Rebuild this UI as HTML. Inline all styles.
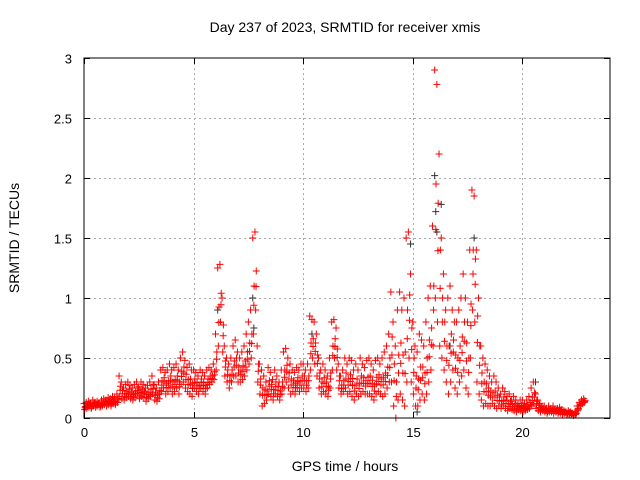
<!DOCTYPE html>
<html><head><meta charset="utf-8"><style>
body{margin:0;background:#fff}
svg{display:block;font-family:"Liberation Sans",sans-serif}
</style></head><body>
<svg id="chart" width="640" height="480" viewBox="0 0 640 480">
<rect width="640" height="480" fill="#fff"/>
<text x="345" y="32" text-anchor="middle" font-size="14">Day 237 of 2023, SRMTID for receiver xmis</text>
<text x="345" y="471" text-anchor="middle" font-size="14">GPS time / hours</text>
<text transform="translate(19,238) rotate(-90)" text-anchor="middle" font-size="14">SRMTID / TECUs</text>
<g id="grid"></g>
<g id="ticks"></g>
<g id="marks"></g>
<rect x="84" y="58" width="526" height="360" fill="none" stroke="#000" stroke-width="1"/>
</svg>
<script>
const xTicks=[0,5,10,15,20];
const yTicks=[0,0.5,1,1.5,2,2.5,3];
const yTickLabels=["0","0.5","1","1.5","2","2.5","3"];
const tStart=0, tStep=0.1;
const upper=[.12,.13,.14,.12,.15,.13,.14,.12,.15,.16,
.15,.17,.16,.18,.17,.2,.35,.3,.25,.28,
.3,.27,.25,.28,.3,.26,.3,.28,.25,.27,
.3,.35,.28,.25,.3,.4,.42,.38,.4,.45,
.4,.42,.45,.4,.5,.55,.48,.42,.45,.4,
.4,.38,.35,.4,.38,.35,.4,.42,.4,.45,
.7,1.25,1.28,1.0,.6,.5,.45,.5,.6,.65,
.55,.5,.55,.6,.7,.8,.9,1.5,1.55,.6,
.45,.4,.35,.3,.42,.38,.32,.4,.35,.3,
.4,.55,.58,.5,.45,.4,.38,.42,.4,.45,
.45,.4,.45,.85,.82,.8,.7,.5,.4,.45,
.4,.35,.5,.8,.82,.75,.45,.35,.4,.5,
.45,.5,.48,.4,.45,.4,.5,.45,.42,.48,
.5,.45,.4,.48,.5,.45,.5,.55,.6,.7,
1.05,.8,.6,.9,1.05,.9,1.0,1.5,1.55,1.2,
.8,.6,.55,.7,.65,.6,.8,1.0,1.1,1.6,
2.9,2.78,2.2,1.5,1.2,.9,1.0,1.1,.9,.8,
.8,.9,1.0,1.2,1.0,.8,1.4,1.9,1.85,1.4,
1.0,.6,.5,.45,.4,.35,.3,.35,.3,.25,
.2,.25,.22,.18,.2,.15,.18,.15,.12,.15,
.15,.12,.15,.18,.25,.3,.2,.15,.12,.1,
.1,.08,.1,.08,.1,.07,.08,.09,.07,.06,
.05,.06,.05,.04,.05,.1,.13,.15,.16];
const lower=[.07,.08,.09,.08,.1,.09,.1,.09,.1,.11,
.1,.11,.1,.12,.11,.13,.18,.16,.15,.17,
.18,.16,.15,.17,.2,.16,.18,.17,.14,.16,
.18,.2,.15,.14,.16,.22,.25,.2,.22,.25,
.2,.22,.25,.2,.28,.3,.25,.22,.2,.18,
.25,.22,.2,.25,.22,.2,.25,.28,.3,.32,
.4,.6,.8,.55,.35,.3,.25,.3,.35,.35,
.3,.3,.32,.35,.4,.45,.5,.7,.9,.3,
.2,.1,.12,.15,.2,.18,.15,.2,.18,.15,
.2,.25,.3,.25,.2,.22,.2,.25,.22,.25,
.25,.22,.25,.4,.5,.45,.35,.25,.2,.22,
.2,.18,.25,.4,.5,.4,.25,.2,.22,.25,
.2,.22,.18,.15,.2,.18,.2,.22,.2,.2,
.2,.18,.15,.2,.22,.2,.18,.2,.25,.3,
.3,.1,0.0,.15,.2,.15,.1,.3,.5,.3,
.2,.1,.1,.15,.2,.15,.2,.3,.4,.6,
1.0,.8,.6,.5,.4,.3,.2,.3,.4,.25,
.2,.3,.35,.4,.25,.2,.5,.9,.8,.3,
.2,.15,.1,.12,.1,.1,.12,.1,.08,.1,
.08,.1,.08,.06,.08,.07,.06,.05,.07,.06,
.05,.06,.07,.08,.1,.12,.08,.06,.05,.06,
.05,.04,.05,.05,.04,.05,.04,.04,.03,.04,
.03,.03,.03,.02,.03,.06,.1,.12,.13];
const blackTimes=[6.1,7.7,7.75,10.4,14.9,15.2,16.0,16.05,16.1,16.3,16.7,17.8,20.6];
const blackValues=[0.9,1.0,0.75,0.7,1.45,0.05,2.02,1.72,1.55,1.78,0.6,1.5,0.3];

const X0=84,X1=610,Y0=418,Y1=58,XMAX=24,YMAX=3;
const xs=v=>X0+(v/XMAX)*(X1-X0);
const ys=v=>Y0-(v/YMAX)*(Y0-Y1);
const NS="http://www.w3.org/2000/svg";
const grid=document.getElementById('grid'),ticks=document.getElementById('ticks'),marks=document.getElementById('marks');
function line(p,x1,y1,x2,y2,st,dash){const l=document.createElementNS(NS,'line');l.setAttribute('x1',x1);l.setAttribute('y1',y1);l.setAttribute('x2',x2);l.setAttribute('y2',y2);l.setAttribute('stroke',st);l.setAttribute('stroke-width',1);if(dash)l.setAttribute('stroke-dasharray',dash);p.appendChild(l);return l;}
function txt(p,x,y,s,anchor){const t=document.createElementNS(NS,'text');t.setAttribute('x',x);t.setAttribute('y',y);t.setAttribute('text-anchor',anchor);t.setAttribute('font-size','13');t.textContent=s;p.appendChild(t);return t;}
xTicks.forEach(v=>{const x=Math.round(xs(v))+0.5;
 if(v>0){const g=line(grid,x,Y1,x,Y0,'#aaa','2,3');}
 line(ticks,x,Y0,x,Y0-6,'#000');line(ticks,x,Y1,x,Y1+6,'#000');
 const t=txt(ticks,x,437,String(v),'middle');
 
 });
yTicks.forEach((v,i)=>{const y=Math.round(ys(v))+0.5;
 if(v>0&&v<3){const g=line(grid,X0,y,X1,y,'#aaa','2,3');}
 line(ticks,X0,y,X0+6,y,'#000');line(ticks,X1,y,X1-6,y,'#000');
 const t=txt(ticks,72,y+5,yTickLabels[i],'end');
 
 });
function plus(t,v,col,name){const x=xs(t),y=ys(v);const p=document.createElementNS(NS,'path');
 p.setAttribute('d',`M${x-3.5},${y}h7M${x},${y-3.5}v7`);p.setAttribute('stroke',col);p.setAttribute('stroke-width','1');p.setAttribute('fill','none');
 
 
 marks.appendChild(p);}
blackTimes.forEach((t,i)=>plus(t,blackValues[i],'#333','black-point'));
upper.forEach((v,i)=>{const t=tStart+i*tStep;
 plus(t,v,'#f00','red-point');
 plus(t+0.03,lower[i],'#f00','red-point');
 plus(t+0.06,(v+lower[i])/2,'#f00','red-point');
 plus(t+0.05,(v*0.3+lower[i]*0.7),'#f00','red-point');});
</script>
</body></html>
